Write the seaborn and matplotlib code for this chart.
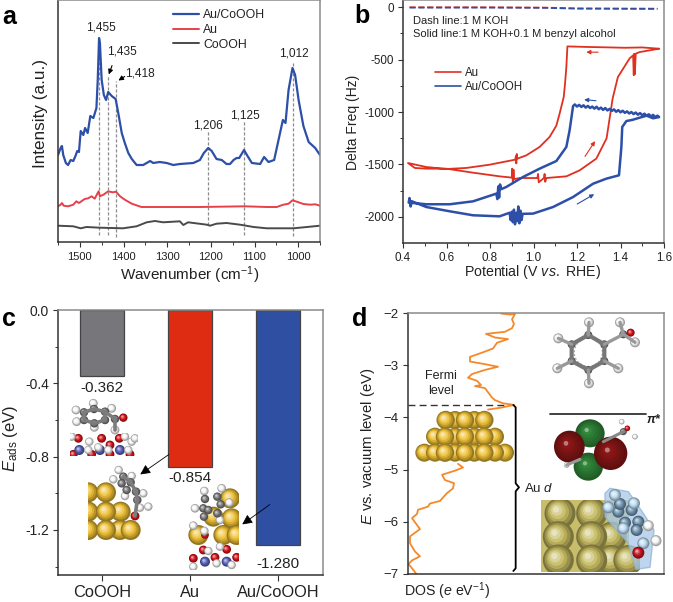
import numpy as np
import seaborn as sns
import matplotlib
matplotlib.use("Agg")
import matplotlib.pyplot as plt
from matplotlib.colors import to_rgb
from matplotlib.patches import Circle, Ellipse, Polygon, Rectangle
from matplotlib.ticker import MultipleLocator

W, H = 673, 602

# panel a: Raman spectra
wn_blue = [1550,1544,1541,1538,1532,1527,1521,1515,1510,1506,1502,1498,1492,1488,1482,1476,1469,1462,1459,1456,1454,1450,1445,1440,1435,1427,1418,1412,1404,1397,1389,1381,1370,1355,1339,1332,1317,1301,1286,1271,1240,1225,1216,1206,1198,1187,1175,1164,1156,1148,1141,1135,1124,1116,1106,1087,1078,1068,1055,1045,1035,1029,1022,1013,1007,999,988,976,961,950]
int_blue = [87,94,96,87,79,77,82,81,86,91,90,111,107,114,109,126,124,134,162,204,199,162,147,142,150,146,143,129,109,99,89,83,77,77,81,79,80,79,77,78,79,82,89,94,91,83,82,78,78,82,84,84,92,86,79,78,85,80,82,102,122,119,152,174,167,142,116,100,94,87]
wn_red = [1550,1544,1541,1537,1527,1515,1508,1502,1489,1481,1473,1466,1457,1454,1446,1435,1425,1417,1408,1397,1381,1359,1225,1122,1072,1049,1034,1022,1013,1003,988,972,961,950]
int_red = [35.7,37.3,39,36.3,35.7,37.3,40.7,39,43,43.7,45.7,43.3,50.7,45.7,47.3,50.7,49.7,50.3,45.7,42.3,38.3,35,35,35.7,35,35,37.3,38.3,41.7,40.3,38,37.3,37.7,36.3]
wn_gray = [1550,1515,1498,1485,1454,1401,1370,1347,1328,1309,1271,1263,1252,1209,1202,1187,1164,1133,1102,1072,1011,980,950]
int_gray = [16.3,15.7,13.7,15,14.3,13.7,15.7,19.7,21,19.7,20.7,17,19.7,17.3,16.3,18.3,19,17.3,15,13.7,13.7,15,16.3]
peak_wn = [1455,1435,1418,1206,1125,1012]
peak_labels = ["1,455","1,435","1,418","1,206","1,125","1,012"]
peak_top = [200,166,161,111,121,179]
peak_bottom = [7,7,5,17,7,6]

# panel b: EQCM sweeps
v_au = [1.577,1.50,1.42,1.335,1.24,1.156,1.151,1.145,1.139,1.120,1.105,1.074,1.028,0.967,0.925,0.923,0.921,0.919,0.916,0.798,0.691,0.599,0.507,0.423,0.454,0.507,0.599,0.722,0.844,0.900,0.902,0.905,0.908,0.911,0.936,1.018,1.021,1.024,1.048,1.051,1.054,1.059,1.151,1.212,1.289,1.336,1.350,1.364,1.388,1.442,1.458,1.461,1.463,1.466,1.47,1.488,1.577]
f_au = [-397,-385,-388,-384,-380,-375,-571,-730,-857,-1016,-1130,-1238,-1333,-1413,-1445,-1400,-1490,-1420,-1454,-1502,-1533,-1543,-1524,-1486,-1533,-1540,-1540,-1578,-1613,-1625,-1540,-1670,-1550,-1640,-1629,-1629,-1590,-1670,-1629,-1590,-1665,-1629,-1613,-1556,-1444,-1251,-1060,-870,-667,-489,-460,-650,-445,-640,-445,-429,-397]
v_auco = [1.577,1.57,1.56,1.55,1.54,1.53,1.52,1.51,1.50,1.49,1.48,1.47,1.46,1.45,1.44,1.43,1.42,1.41,1.40,1.39,1.38,1.37,1.36,1.35,1.34,1.33,1.32,1.31,1.30,1.29,1.28,1.27,1.26,1.25,1.24,1.23,1.22,1.21,1.20,1.19,1.182,1.166,1.151,1.105,1.028,0.952,0.875,0.852,0.846,0.842,0.838,0.834,0.829,0.722,0.615,0.507,0.426,0.43,0.435,0.44,0.507,0.615,0.722,0.844,0.89,0.895,0.90,0.905,0.91,0.915,0.92,0.925,0.93,0.935,0.94,0.945,0.95,0.998,1.090,1.182,1.274,1.335,1.393,1.404,1.408,1.427,1.455,1.488,1.52,1.55,1.577]
f_auco = [-1048,-1035,-1048,-1028,-1042,-1022,-1036,-1016,-1032,-1010,-1026,-1005,-1020,-1000,-1014,-994,-1008,-988,-1003,-982,-998,-975,-990,-970,-985,-962,-980,-958,-974,-950,-968,-948,-962,-942,-958,-936,-952,-932,-948,-928,-943,-1175,-1333,-1467,-1540,-1619,-1714,-1735,-1690,-1815,-1710,-1830,-1778,-1851,-1879,-1879,-1863,-1820,-1900,-1850,-1905,-1946,-1984,-1994,-1960,-2030,-1950,-2050,-1930,-2070,-1960,-2040,-1900,-2060,-1940,-2030,-1970,-1968,-1905,-1810,-1683,-1635,-1603,-1333,-1143,-1086,-1075,-1054,-1035,-1060,-1048]
v_dash = [0.43,0.80,1.05,1.20,1.57]
f_dash_au = [-2,-2,-5,-12,-15]
f_dash_co = [-6,-6,-8,-16,-18]

# panel c: adsorption energies
catalysts = ["CoOOH","Au","Au/CoOOH"]
eads = [-0.362,-0.854,-1.280]

# panel d: density of states
dos_top = [93,102,107,104,106,104,97,78,87,100,89,85,74,62,62,77,90,77,64,60,69,73,67,77,84,87,95,106,94,80]
e_top = [-2.01,-2.03,-2.02,-2.12,-2.21,-2.29,-2.36,-2.40,-2.47,-2.50,-2.57,-2.68,-2.76,-2.84,-2.93,-2.98,-3.03,-3.09,-3.17,-3.24,-3.30,-3.38,-3.40,-3.44,-3.62,-3.67,-3.73,-3.76,-3.81,-3.85]
dos_low = [50,55,47,34,37,46,45,39,32,22,20,10,9,4,12,2,2,7,12,4,0.5,4,8]
e_low = [-4.89,-4.96,-5.02,-5.10,-5.20,-5.26,-5.36,-5.45,-5.60,-5.65,-5.71,-5.77,-5.85,-5.93,-6.14,-6.28,-6.41,-6.57,-6.66,-6.74,-6.81,-6.89,-6.99]
d_ticks = [-7,-6,-5,-4,-3,-2]
d_ticklabels = ["\u22127","\u22126","\u22125","\u22124","\u22123","\u22122"]

BLUE = "#2d4fa8"
RED = "#e8404a"
DARK = "#4a4a4a"
CRED = "#e03020"
GOLD = "#eec035"
WHITE = "#f8f8f8"
CGRAY = "#7c7c7c"
ORED = "#d8141a"
COBALT = "#5a62c0"
OLIVE = "#c4b960"

sns.set_theme(style="white")
plt.rcParams["font.family"] = ["Liberation Sans", "DejaVu Sans"]
plt.rcParams["axes.unicode_minus"] = False
plt.rcParams["mathtext.fontset"] = "custom"
plt.rcParams["mathtext.rm"] = "Liberation Sans"
plt.rcParams["mathtext.it"] = "Liberation Sans:italic"
plt.rcParams["mathtext.bf"] = "Liberation Sans:bold"
plt.rcParams["text.color"] = "#222222"


def px_axes(left, top, right, bottom):
    ax = fig.add_axes([left / W, 1 - bottom / H, (right - left) / W, (bottom - top) / H])
    for side in ["left", "bottom"]:
        ax.spines[side].set_color("#333333")
        ax.spines[side].set_linewidth(1.1)
    for side in ["top", "right"]:
        ax.spines[side].set_color("#8a8a8a")
        ax.spines[side].set_linewidth(1.1)
    ax.tick_params(which="major", length=3.5, width=0.8, color="#333333", bottom=True, left=True, pad=3, labelcolor="#222222")
    ax.tick_params(which="minor", length=2, width=0.7, color="#333333", bottom=True, left=True)
    return ax


def center_labels(ax, xpos, ypos):
    # label coords given for the text centres
    ax.xaxis.label.set_va("center")
    ax.yaxis.label.set_va("center")
    ax.xaxis.set_label_coords(*xpos)
    ax.yaxis.set_label_coords(*ypos)


fig = plt.figure(figsize=(W / 100, H / 100), dpi=100)

# ---- a
ax_a = px_axes(58, 0, 320, 242)
for xs, ys, col, name, lw in [(wn_blue, int_blue, BLUE, "Au/CoOOH", 1.6),
                              (wn_red, int_red, RED, "Au", 1.4),
                              (wn_gray, int_gray, DARK, "CoOOH", 1.4)]:
    sns.lineplot(x=xs, y=ys, sort=False, estimator=None, color=col, linewidth=lw, label=name, ax=ax_a)
ax_a.set_xlim(1550, 950)
ax_a.set_ylim(0, 242)
ax_a.set_yticks([])
ax_a.xaxis.set_major_locator(MultipleLocator(100))
ax_a.xaxis.set_minor_locator(MultipleLocator(50))
ax_a.tick_params(axis="x", labelsize=8, pad=4)
ax_a.set_xlabel("Wavenumber (cm$^{-1}$)", fontsize=11, color="#222222")
ax_a.set_ylabel("Intensity (a.u.)", fontsize=12.3, color="#222222")
center_labels(ax_a, (0.504, -0.137), (-0.065, 0.53))
ax_a.legend(loc="upper left", bbox_to_anchor=(0.41, 0.995), frameon=False, fontsize=8.8,
            labelspacing=0.22, handlelength=2.1, handletextpad=0.35, borderaxespad=0.35, borderpad=0.3)
for wn, top, bot in zip(peak_wn, peak_top, peak_bottom):
    ax_a.plot([wn, wn], [bot, top], color="#8c8c8c", lw=0.9, ls=(0, (2.5, 1.5)), zorder=1)
label_pos = [(1452, 214), (1404, 190), (1362, 168), (1206, 117), (1122, 127), (1010, 189)]
for txt, (lx, ly) in zip(peak_labels, label_pos):
    ax_a.text(lx, ly, txt, fontsize=8.6, ha="center", va="center")
ax_a.annotate("", xy=(1436, 165), xytext=(1424, 179), arrowprops=dict(arrowstyle="-|>", color="black", lw=0.8, mutation_scale=7))
ax_a.annotate("", xy=(1417, 160), xytext=(1392, 167), arrowprops=dict(arrowstyle="-|>", color="black", lw=0.8, mutation_scale=7))

# ---- b
ax_b = px_axes(403, 0, 664, 243)
sns.lineplot(x=v_dash, y=f_dash_au, sort=False, estimator=None, color=CRED, linewidth=1.2, linestyle="--", ax=ax_b)
sns.lineplot(x=v_dash, y=f_dash_co, sort=False, estimator=None, color=BLUE, linewidth=1.2, linestyle="--", ax=ax_b)
sns.lineplot(x=v_au, y=f_au, sort=False, estimator=None, color=CRED, linewidth=1.3, label="Au", ax=ax_b)
sns.lineplot(x=v_auco, y=f_auco, sort=False, estimator=None, color=BLUE, linewidth=1.8, label="Au/CoOOH", ax=ax_b)
ax_b.set_xlim(0.4, 1.6)
ax_b.set_ylim(-2248, 67)
ax_b.xaxis.set_major_locator(MultipleLocator(0.2))
ax_b.xaxis.set_minor_locator(MultipleLocator(0.1))
ax_b.yaxis.set_major_locator(MultipleLocator(500))
ax_b.yaxis.set_minor_locator(MultipleLocator(250))
ax_b.tick_params(labelsize=8.4)
ax_b.set_xlabel("Potential (V $\\mathit{vs.}$ RHE)", fontsize=10.2, color="#222222")
ax_b.set_ylabel("Delta Freq (Hz)", fontsize=10, color="#222222")
center_labels(ax_b, (0.498, -0.119), (-0.192, 0.498))
leg = ax_b.legend(loc="upper left", bbox_to_anchor=(0.124, 0.724), frameon=False, fontsize=8.3,
                  labelspacing=0.2, handlelength=2.2, handletextpad=0.4, borderaxespad=0, borderpad=0)
for h in leg.get_lines():
    h.set_linewidth(1.2)
ax_b.text(0.445, -130, "Dash line:1 M KOH", fontsize=8.05, va="center")
ax_b.text(0.445, -255, "Solid line:1 M KOH+0.1 M benzyl alcohol", fontsize=8.05, va="center")
arrow_list = [((1.23, -430), (1.31, -430), CRED), ((1.22, -880), (1.30, -895), BLUE),
              ((1.29, -1255), (1.23, -1445), CRED), ((1.29, -1770), (1.19, -1890), BLUE)]
for tip, tail, col in arrow_list:
    ax_b.annotate("", xy=tip, xytext=tail, arrowprops=dict(arrowstyle="-|>", color=col, lw=0.8, mutation_scale=6))

# ---- c
ax_c = px_axes(58, 310, 323, 575)
sns.barplot(x=catalysts, y=eads, hue=catalysts, palette=["#77777b", "#de2c12", "#2f4fa3"], order=catalysts,
            width=0.5, edgecolor="#444444", linewidth=0.9, legend=False, saturation=1, ax=ax_c)
ax_c.set_xlim(-0.5, 2.51)
ax_c.set_ylim(-1.446, 0)
ax_c.yaxis.set_major_locator(MultipleLocator(0.4))
ax_c.yaxis.set_minor_locator(MultipleLocator(0.2))
ax_c.tick_params(axis="y", labelsize=10)
ax_c.tick_params(axis="x", labelsize=11.8, length=4, pad=3)
ax_c.set_ylabel("$\\mathit{E}_{\\mathrm{ads}}$ (eV)", fontsize=12, color="#222222")
ax_c.yaxis.label.set_va("center")
ax_c.yaxis.set_label_coords(-0.18, 0.515)
for cont, pad in zip(ax_c.containers, [3, 3, 9]):
    ax_c.bar_label(cont, fmt="%.3f", fontsize=11, padding=pad, color="#222222")

# ---- d
ax_d = px_axes(408, 313, 664, 574)
sns.lineplot(x=dos_top, y=e_top, sort=False, estimator=None, color="#f5892a", linewidth=1.3, ax=ax_d)
sns.lineplot(x=dos_low, y=e_low, sort=False, estimator=None, color="#f5892a", linewidth=1.3, ax=ax_d)
ax_d.plot([0, 97], [-3.76, -3.76], color="#333333", lw=1, ls=(0, (5, 3)))
ax_d.set_xlim(0, 256)
ax_d.set_ylim(-7, -2)
ax_d.set_xticks([])
ax_d.set_yticks(d_ticks)
ax_d.set_yticklabels(d_ticklabels)
ax_d.tick_params(axis="y", labelsize=9.5)
ax_d.set_xlabel("DOS ($\\mathit{e}$ eV$^{-1}$)", fontsize=10.2, color="#222222")
ax_d.set_ylabel("$\\mathit{E}$ vs. vacuum level (eV)", fontsize=10.7, color="#222222")
center_labels(ax_d, (0.152, -0.066), (-0.156, 0.49))
ax_d.text(33, -3.35, "Fermi\nlevel", fontsize=9, ha="center", va="center", linespacing=1.35)
ax_d.text(116, -5.37, "Au $\\mathit{d}$", fontsize=9.5, va="center")

# ---- illustrations on a pixel overlay
ov = fig.add_axes([0, 0, 1, 1], zorder=5)
ov.set_xlim(0, W)
ov.set_ylim(H, 0)
ov.axis("off")
ov.patch.set_visible(False)


def sphere(x, y, r, col, clip=None):
    base = np.array(to_rgb(col))
    steps = 6
    for i in range(steps):
        t = i / (steps - 1)
        if t < 0.5:
            shade = base * (0.62 + 0.38 * t * 2)
        else:
            shade = base + (1 - base) * (t - 0.5) * 1.2
        rr = r * (1 - 0.8 * t)
        c = Circle((x - 0.25 * r * t, y - 0.25 * r * t), rr, fc=np.clip(shade, 0, 1), ec="none")
        ov.add_patch(c)
        if clip is not None:
            c.set_clip_path(Rectangle((clip[0], clip[1]), clip[2] - clip[0], clip[3] - clip[1], transform=ov.transData))


def group(pts, ox, oy, col, r, clip=None):
    for zx, zy in pts:
        sphere(ox + zx / 3, oy + zy / 3, r, col, clip)


# CoOOH adsorbate in c
ox, oy = 60, 395
group([(48,45),(100,25),(155,40),(50,80),(103,97),(165,105)], ox, oy, WHITE, 4.4)
ov.plot([60+72/3,60+102/3,60+135/3,60+135/3,60+103/3,60+72/3,60+72/3], [395+52/3,395+42/3,395+50/3,395+75/3,395+85/3,395+75/3,395+52/3], color=CGRAY, lw=2.6)
ov.plot([60+135/3,60+165/3,60+165/3], [395+50/3,395+72/3,395+105/3], color=CGRAY, lw=2.6)
group([(72,52),(102,42),(135,50),(135,75),(103,85),(72,75),(165,72)], ox, oy, CGRAY, 4.2)
group([(190,68)], ox, oy, ORED, 4.2)
slab = (70, 433, 138, 456)
group([(55,130),(125,130),(178,130),(150,150),(40,178),(95,178),(150,178),(210,178)], ox, oy, ORED, 4.4, slab)
group([(58,165),(120,165),(180,165)], ox, oy, COBALT, 5, slab)
group([(35,125),(88,140),(115,157),(195,125),(215,140),(85,165),(145,165),(205,165),(225,130)], ox, oy, WHITE, 4.2, slab)

# Au adsorbate in c
clip_au = (88, 440, 150, 560)
group([(85,292),(85,350),(85,405),(182,350),(180,405),(212,405),(138,292),(138,350),(138,405)], ox, oy, GOLD, 10, clip_au)
ov.plot([60+190/3,60+212/3,60+228/3,60+232/3,60+225/3], [395+245/3,395+262/3,395+290/3,395+315/3,395+363/3], color=CGRAY, lw=2.6)
group([(176,225),(215,243),(160,253),(250,295),(195,303),(265,335),(240,338)], ox, oy, WHITE, 4.2)
group([(190,245),(212,262),(185,265),(228,290),(200,285),(232,315)], ox, oy, CGRAY, 4.2)
group([(225,363)], ox, oy, ORED, 4.4)

# Au/CoOOH adsorbate in c
clip_co = (188, 480, 239, 570)
group([(510,310),(515,370),(460,365),(415,420),(490,420),(530,420)], ox, oy, GOLD, 10, clip_co)
group([(430,465),(500,463),(465,487),(530,487),(400,490)], ox, oy, ORED, 4.4, clip_co)
group([(435,500),(500,500)], ox, oy, COBALT, 5, clip_co)
group([(445,468),(480,455),(470,505),(400,515),(515,510)], ox, oy, WHITE, 4.2, clip_co)
group([(435,420)], ox, oy, ORED, 3.8)
group([(433,288),(485,280),(508,323),(405,340),(480,375),(400,392),(433,408)], ox, oy, WHITE, 4.3)
group([(435,312),(472,305),(482,328),(472,355),(432,365),(430,340),(445,345)], ox, oy, CGRAY, 4.2)
ov.annotate("", xy=(138, 476), xytext=(171, 453), arrowprops=dict(arrowstyle="-|>", color="black", lw=0.6, mutation_scale=15))
ov.annotate("", xy=(240, 526), xytext=(272, 503), arrowprops=dict(arrowstyle="-|>", color="black", lw=0.6, mutation_scale=15))

# benzyl alcohol in d
ox, oy = 540, 305
ring = np.array([(145,90),(193,118),(193,168),(145,195),(95,168),(95,118),(145,90)])
ov.plot(ox + ring[:, 0] / 3, oy + ring[:, 1] / 3, color="#777777", lw=3)
ov.add_patch(Circle((ox + 145 / 3, oy + 142 / 3), 14, fc="none", ec="#9a9a9a", lw=0.7, ls=(0, (2, 2))))
for a, b in [((145,90),(147,52)),((95,118),(55,100)),((95,168),(52,190)),((145,195),(147,235)),((193,168),(235,190)),((193,118),(250,88)),((250,88),(240,52)),((250,88),(285,112))]:
    ov.plot([ox + a[0] / 3, ox + b[0] / 3], [oy + a[1] / 3, oy + b[1] / 3], color="#999999", lw=2.4)
group([(145,90),(193,118),(193,168),(145,195),(95,168),(95,118),(250,88)], ox, oy, CGRAY, 4)
group([(147,52),(55,100),(52,190),(147,235),(235,190),(240,52),(285,112)], ox, oy, WHITE, 5)
group([(272,83)], ox, oy, ORED, 4)
ov.plot([550, 646], [414, 414], color="#333333", lw=1.3)
ov.text(647, 420, "\u03c0*", fontsize=9, fontweight="bold", style="italic", ha="left", va="center")

# pi* orbital
ox, oy = 340, 290
for (zx, zy, rx, ry, col) in [(750,430,44,42,"#2c7a34"),(745,530,44,42,"#2c7a34"),(688,470,46,48,"#7e1414"),(812,490,50,50,"#7e1414")]:
    base = np.array(to_rgb(col))
    for i in range(6):
        t = i / 5
        shade = base * (0.75 + 0.45 * t) if t < 0.9 else base + (1 - base) * 0.45
        ov.add_patch(Ellipse((ox + (zx - 10 * t) / 3, oy + (zy - 10 * t) / 3), 2 * rx / 3 * (1 - 0.85 * t), 2 * ry / 3 * (1 - 0.85 * t), fc=np.clip(shade, 0, 1), ec="none"))
ov.plot([ox + 790 / 3, ox + 850 / 3], [oy + 455 / 3, oy + 425 / 3], color="#888888", lw=2.2)
ov.plot([ox + 680 / 3, ox + 720 / 3], [oy + 525 / 3, oy + 508 / 3], color="#999999", lw=2.2)
group([(850,425)], ox, oy, CGRAY, 3.5)
group([(845,395),(885,440),(680,525)], ox, oy, WHITE, 2.8)
group([(862,415)], ox, oy, ORED, 2.8)

# Fermi level gold slab
ox, oy = 405, 310
group([(150,330),(208,330),(150,380),(208,380),(150,428),(208,428),(58,428),(300,428),(90,380),(270,380),(90,428),(270,428)], ox, oy, GOLD, 9)
group([(122,330),(180,330),(238,330),(120,380),(180,380),(238,380),(120,428),(180,428),(238,428)], ox, oy, GOLD, 9.2)

# brace for Au d
ox, oy = 340, 290
bx = [520,527,527,537,527,527,520]
by = [345,352,580,592,604,835,843]
ov.plot([ox + v / 3 for v in bx], [oy + v / 3 for v in by], color="black", lw=1.3)

# charge density surface in d
ox, oy = 530, 480
ov.add_patch(Rectangle((ox + 33 / 3, oy + 60 / 3), 265 / 3, 215 / 3, fc="#c8bd6a", ec="none"))
group([(245,170),(245,240),(295,240)], ox, oy, OLIVE, 15, (ox, oy, ox + 330 / 3, oy + 275 / 3))
group([(90,100),(185,100),(85,170),(185,170),(85,240),(185,240)], ox, oy, OLIVE, 15.5, (ox + 33 / 3, oy + 60 / 3, ox + 298 / 3, oy + 275 / 3))
cloud = np.array([(225,40),(240,25),(295,35),(340,100),(372,150),(360,262),(318,268),(295,190),(225,110)])
ov.add_patch(Polygon(np.c_[ox + cloud[:, 0] / 3, oy + cloud[:, 1] / 3], fc="#a8c8e8", ec="#8fb3d8", alpha=0.75, lw=1))
group([(265,95),(270,72),(305,90),(325,125),(285,128),(320,150)], ox, oy, "#7397b4", 6)
group([(255,45),(312,70),(235,82),(280,145),(340,190)], ox, oy, "#c2e2f8", 6)
group([(355,137),(378,182)], ox, oy, "#fbfbfb", 5.5)
group([(325,218)], ox, oy, "#cc1420", 6)

# panel letters
for letter, lx, ly in [("a", 9, 17), ("b", 362, 16), ("c", 9, 319), ("d", 360, 319)]:
    ov.text(lx, ly, letter, fontsize=18, fontweight="bold", color="black", ha="center", va="center")

fig.savefig("out.png", dpi=100)
plt.close(fig)
print("saved")
